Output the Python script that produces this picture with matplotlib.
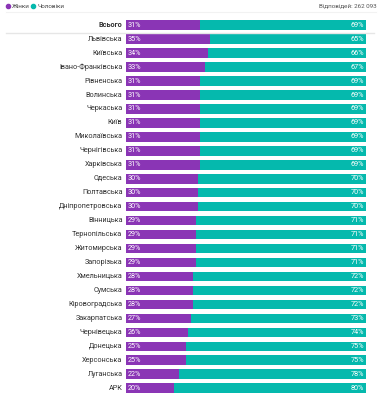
import matplotlib
matplotlib.use("Agg")
import matplotlib.pyplot as plt
from matplotlib import font_manager

regions = ["Всього", "Львівська", "Київська", "Івано-Франківська", "Рівненська", "Волинська",
           "Черкаська", "Київ", "Миколаївська", "Чернігівська", "Харківська", "Одеська",
           "Полтавська", "Дніпропетровська", "Вінницька", "Тернопільська", "Житомирська",
           "Запорізька", "Хмельницька", "Сумська", "Кіровоградська", "Закарпатська",
           "Чернівецька", "Донецька", "Херсонська", "Луганська", "АРК"]
women = [31, 35, 34, 33, 31, 31, 31, 31, 31, 31, 31, 30, 30, 30, 29, 29, 29, 29,
         28, 28, 28, 27, 26, 25, 25, 22, 20]
men = [69, 65, 66, 67, 69, 69, 69, 69, 69, 69, 69, 70, 70, 70, 71, 71, 71, 71,
       72, 72, 72, 73, 74, 75, 75, 78, 80]
legend_labels = ["Жінки", "Чоловіки"]
total_text = "Відповідей: 262 093"

purple = "#8a35b5"
teal = "#05b9ad"

names = [f.name for f in font_manager.fontManager.ttflist]
fam = "Liberation Sans Narrow" if "Liberation Sans Narrow" in names else "Roboto"
plt.rcParams['font.family'] = [fam, 'DejaVu Sans']

W, H = 382, 403
fig = plt.figure(figsize=(W / 100, H / 100), dpi=100)

x0, x1 = 126, 366
row0, step = 25.2, 13.96
ax = fig.add_axes([x0 / W, 0, (x1 - x0) / W, 1])
ax.set_xlim(0, 100)
ax.set_ylim((H - row0) / step, -row0 / step)
ax.axis("off")

ypos = list(range(len(regions)))
ax.barh(ypos, women, height=0.68, color=purple, linewidth=0)
ax.barh(ypos, men, left=women, height=0.68, color=teal, linewidth=0)

for y, name, w, m in zip(ypos, regions, women, men):
    ax.text(-1.5, y, name, ha="right", va="center", fontsize=5.2, color="#333333",
            fontweight="bold" if y == 0 else "normal", clip_on=False)
    ax.text(0.8, y, f"{w}%", ha="left", va="center", fontsize=5.2, color="white")
    ax.text(w + m - 0.8, y, f"{m}%", ha="right", va="center", fontsize=5.2, color="white")

# separator lines
fig.add_artist(plt.Line2D([6 / W, 374 / W], [1 - 32.5 / H, 1 - 32.5 / H], color="#e6e6e6", lw=1))
fig.add_artist(plt.Line2D([6 / W, 376 / W], [1 - 11.5 / H, 1 - 11.5 / H], color="#f2f2f2", lw=0.8))

# legend
ly = 1 - 6 / H
fig.add_artist(plt.Line2D([8 / W], [ly], marker="o", ms=3, color=purple, lw=0))
fig.text(12 / W, ly, legend_labels[0], fontsize=4.5, color="#444444", va="center")
fig.add_artist(plt.Line2D([33 / W], [ly], marker="o", ms=3, color=teal, lw=0))
fig.text(37 / W, ly, legend_labels[1], fontsize=4.5, color="#444444", va="center")
fig.text(377 / W, ly, total_text, fontsize=4.5, color="#555555", va="center", ha="right")

plt.savefig("out.png", dpi=100)
